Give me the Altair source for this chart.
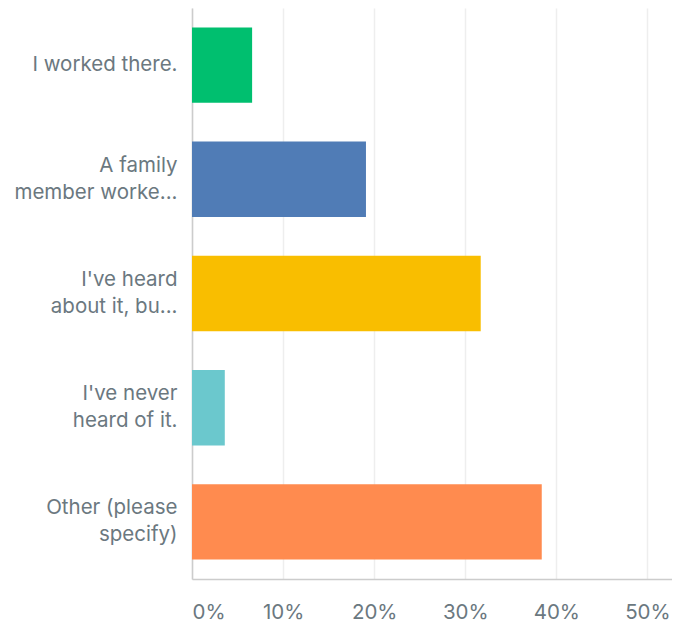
import altair as alt
import pandas as pd

categories = [
    "I worked there.",
    "A family|member worke...",
    "I've heard|about it, bu...",
    "I've never|heard of it.",
    "Other (please|specify)",
]
values = [0.066, 0.191, 0.317, 0.036, 0.384]
colors = ["#00BF6F", "#507CB6", "#F9BE00", "#6BC8CD", "#FF8B4F"]

df = pd.DataFrame({"cat": categories, "val": values})

FONT = "Inter"
FS = 20.5

chart = alt.Chart(df).mark_bar(stroke=None).encode(
    y=alt.Y(
        "cat:N",
        sort=categories,
        title=None,
        scale=alt.Scale(paddingInner=0.34, paddingOuter=0.17),
        axis=alt.Axis(
            labelExpr="split(datum.label, '|')",
            labelLineHeight=27,
            labelFontSize=FS,
            labelFont=FONT,
            labelColor="#6B787F",
            labelPadding=15,
            labelLimit=300,
            labelOffset=alt.condition("indexof(datum.label, '|') >= 0", alt.value(-13.5), alt.value(0)),
            ticks=False,
            domainColor="#CCCCCC",
            domainWidth=1.5,
            grid=False,
        ),
    ),
    x=alt.X(
        "val:Q",
        title=None,
        scale=alt.Scale(domain=[0, 0.527], nice=False),
        axis=alt.Axis(
            values=[0, 0.1, 0.2, 0.3, 0.4, 0.5],
            format=".0%",
            labelFontSize=FS,
            labelFont=FONT,
            labelColor="#6B787F",
            labelPadding=23,
            ticks=False,
            domainColor="#CCCCCC",
            domainWidth=1.5,
            grid=True,
            gridColor="#EEEEEE",
            gridWidth=1.5,
        ),
    ),
    color=alt.Color("cat:N", sort=categories, scale=alt.Scale(domain=categories, range=colors), legend=None),
).properties(
    width=480,
    height=571,
    autosize=alt.AutoSizeParams(type="none"),
    padding={"left": 184, "top": 0, "right": 0, "bottom": 45},
).configure_view(stroke=None)

chart.save("out.html", embed_options={"renderer": "svg", "actions": False})
